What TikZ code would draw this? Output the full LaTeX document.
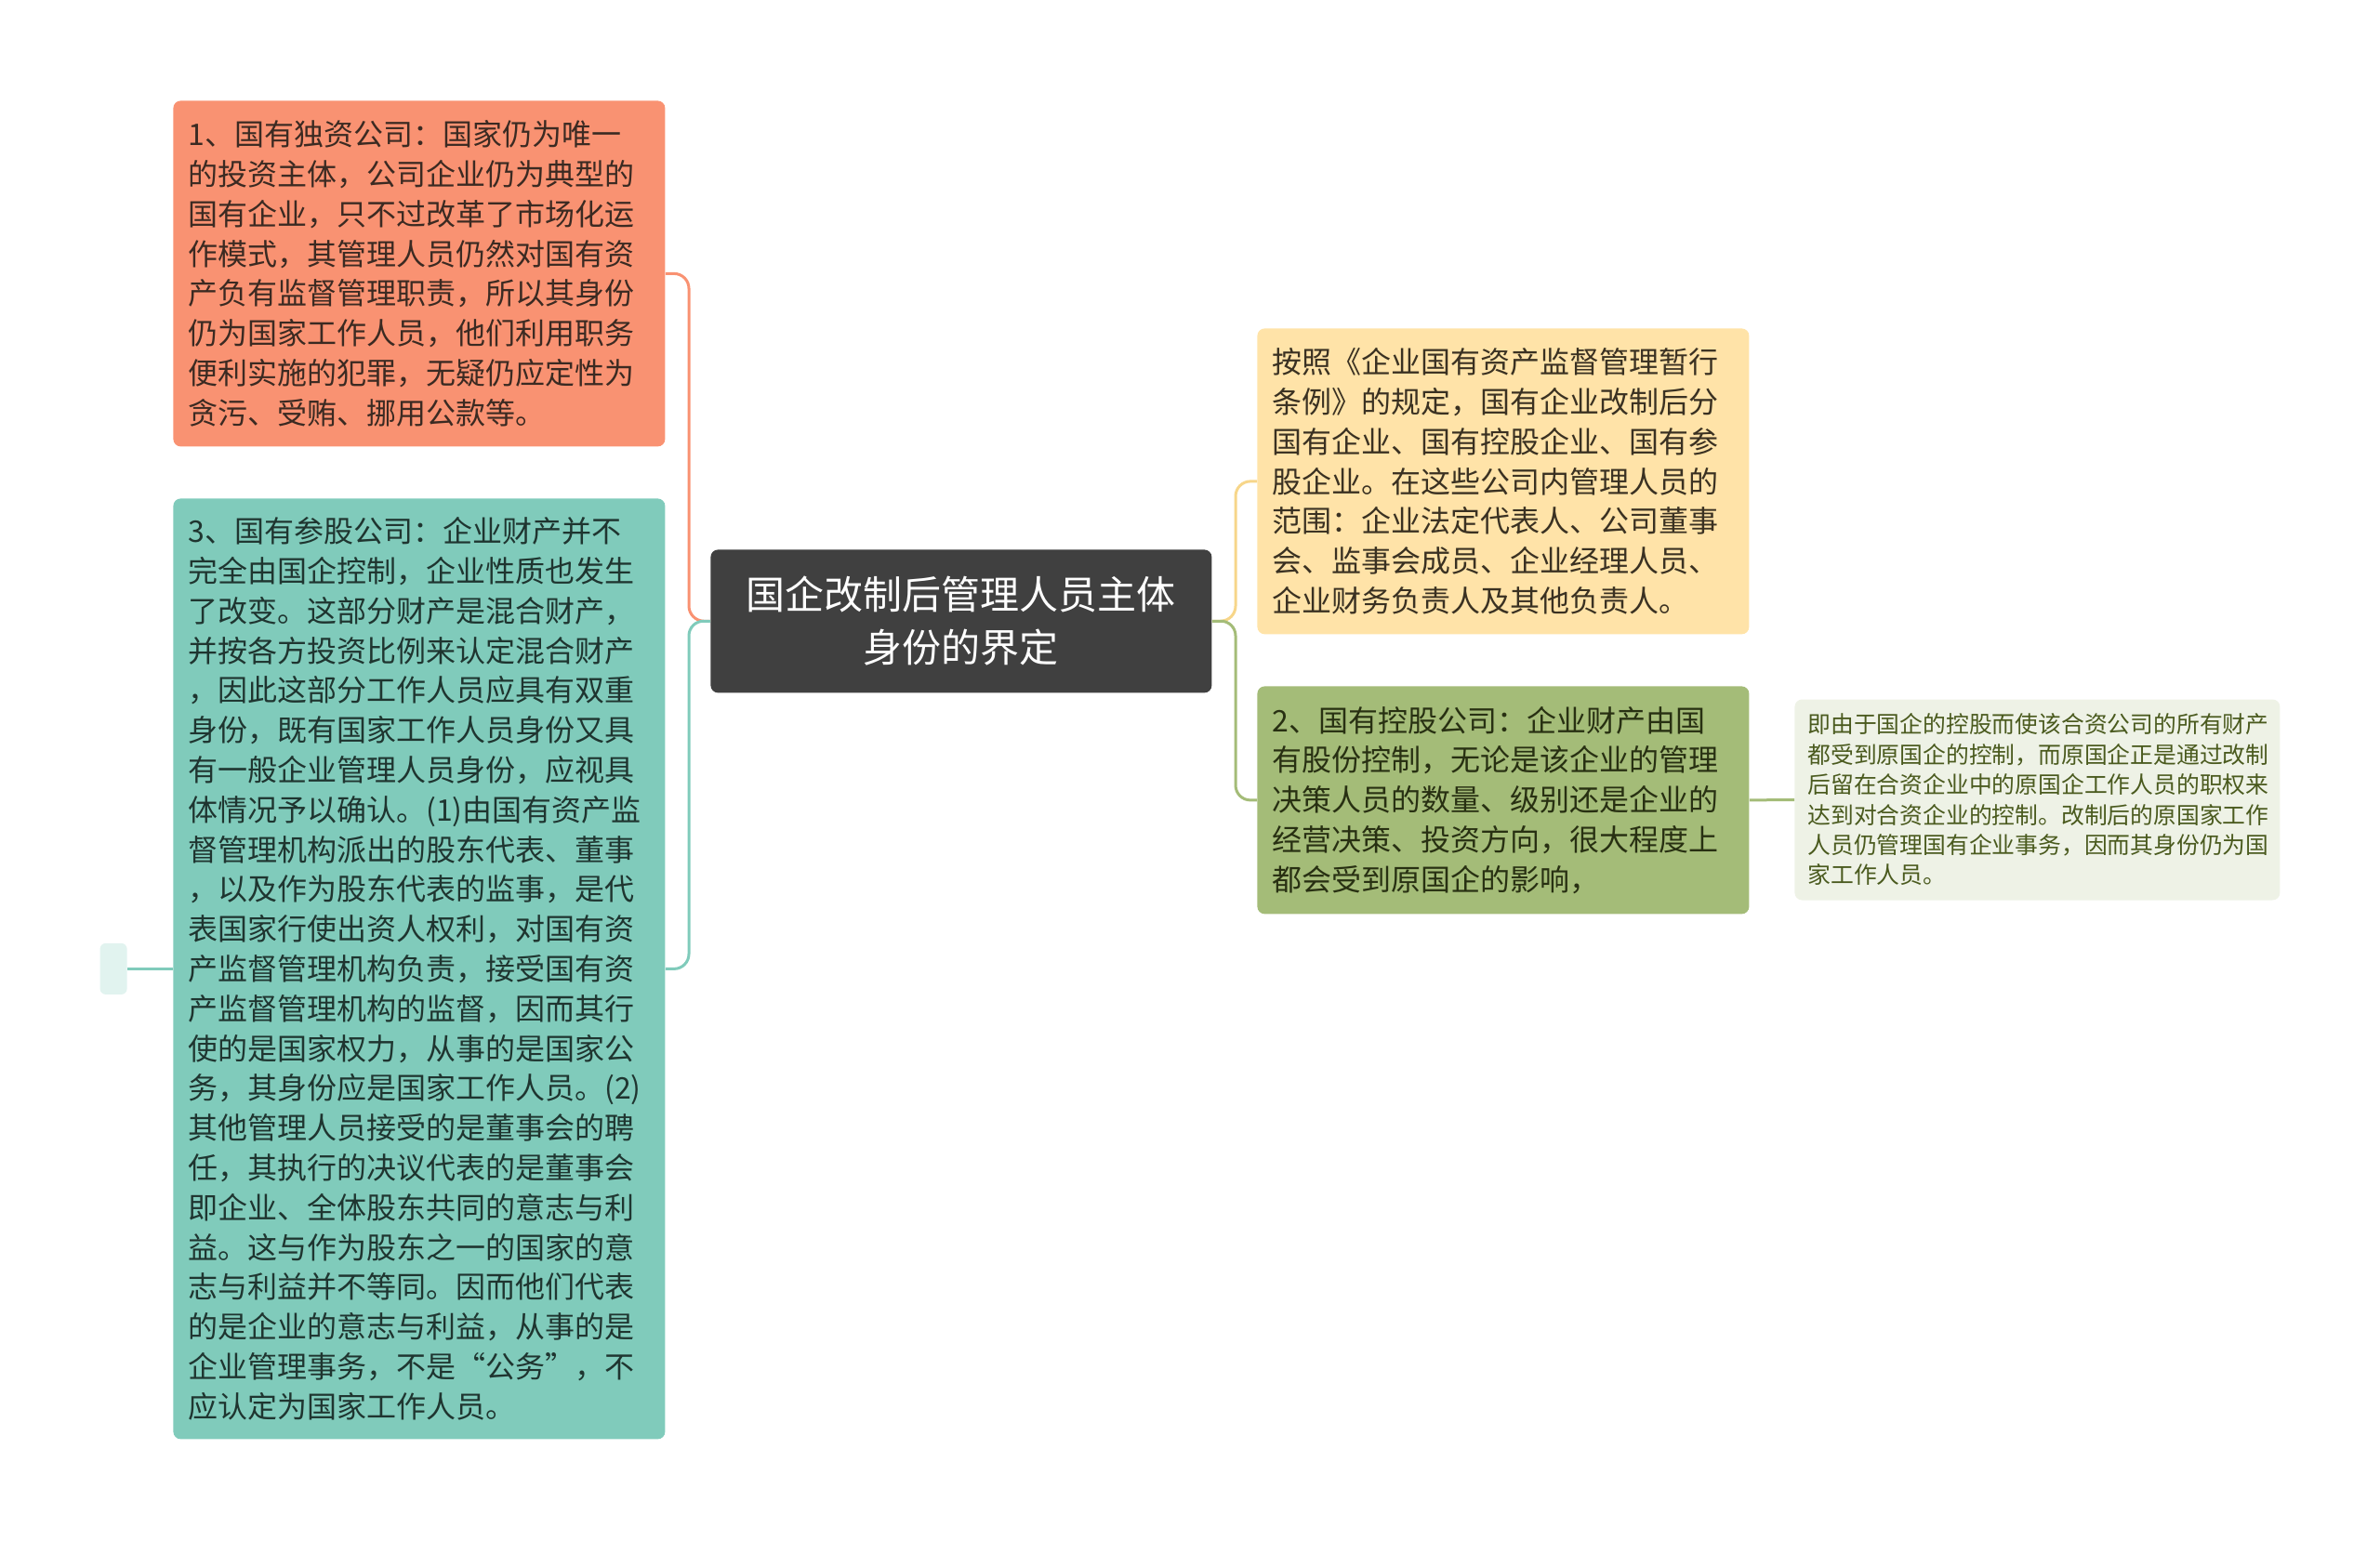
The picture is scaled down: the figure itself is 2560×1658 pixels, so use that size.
\documentclass[tikz,border=0pt]{standalone}
\usepackage{fontspec}
\usepackage{xcolor}
\setmainfont{Noto Sans CJK SC}
\usetikzlibrary{positioning}

\definecolor{coreFill}{HTML}{404040}
\definecolor{salmonFill}{HTML}{F99272}
\definecolor{salmonText}{HTML}{3B2A22}
\definecolor{tealFill}{HTML}{80CBBB}
\definecolor{tealText}{HTML}{1F3530}
\definecolor{tealStub}{HTML}{E1F3EF}
\definecolor{peachFill}{HTML}{FFE3A8}
\definecolor{peachLine}{HTML}{F7D68A}
\definecolor{peachText}{HTML}{3A3122}
\definecolor{oliveFill}{HTML}{A4BC78}
\definecolor{oliveText}{HTML}{283012}
\definecolor{paleFill}{HTML}{EEF2E6}
\definecolor{paleText}{HTML}{4A5A1E}

\begin{document}
\begin{tikzpicture}[x=0.5pt, y=-0.5pt,
    leafbox/.style={rounded corners=4pt, anchor=north west, align=left,
        text width=248.5pt, minimum width=264.5pt, inner xsep=8pt, inner ysep=0pt,
        font=\fontsize{16pt}{21.4pt}\selectfont},
    link/.style={line width=1.5pt, rounded corners=8pt}]
    \useasboundingbox (0,0) rectangle (2560,1658);

    % Nodes
    \node[rounded corners=4pt, fill=coreFill, text=white, anchor=north west, align=center,
          minimum width=269.5pt, minimum height=77pt, inner sep=0pt,
          font=\fontsize{21pt}{28.5pt}\selectfont] (core) at (764,591)
        {国企改制后管理人员主体\\身份的界定};   % Root

    \node[leafbox, fill=salmonFill, text=salmonText, minimum height=186pt] (sole) at (186,108)
        {1、国有独资公司：国家仍为唯一\\的投资主体，公司企业仍为典型的\\国有企业，只不过改革了市场化运\\作模式，其管理人员仍然对国有资\\产负有监督管理职责，所以其身份\\仍为国家工作人员，他们利用职务\\便利实施的犯罪，无疑仍应定性为\\贪污、受贿、挪用公款等。};
    \node[leafbox, fill=tealFill, text=tealText, minimum height=506pt] (mixed) at (186,536)
        {3、国有参股公司：企业财产并不\\完全由国企控制，企业性质也发生\\了改变。这部分财产是混合财产，\\并按各方投资比例来认定混合财产\\，因此这部分工作人员应具有双重\\身份，既有国家工作人员身份又具\\有一般企业管理人员身份，应视具\\体情况予以确认。(1)由国有资产监\\督管理机构派出的股东代表、董事\\，以及作为股东代表的监事，是代\\表国家行使出资人权利，对国有资\\产监督管理机构负责，接受国有资\\产监督管理机构的监督，因而其行\\使的是国家权力，从事的是国家公\\务，其身份应是国家工作人员。(2)\\其他管理人员接受的是董事会的聘\\任，其执行的决议代表的是董事会\\即企业、全体股东共同的意志与利\\益。这与作为股东之一的国家的意\\志与利益并不等同。因而他们代表\\的是企业的意志与利益，从事的是\\企业管理事务，不是“公务”，不\\应认定为国家工作人员。};
    \node[rounded corners=3pt, fill=tealStub, minimum width=14.5pt, minimum height=27.5pt,
          inner sep=0pt, left=24.5pt of mixed] (stub) {}; % empty child

    \node[leafbox, fill=peachFill, text=peachText, minimum height=164.5pt] (rules) at (1352,353)
        {按照《企业国有资产监督管理暂行\\条例》的规定，国有企业改制后分\\国有企业、国有控股企业、国有参\\股企业。在这些公司内管理人员的\\范围：企业法定代表人、公司董事\\会、监事会成员、企业经理人员、\\企业财务负责人及其他负责人。};
    \node[leafbox, fill=oliveFill, text=oliveText, minimum height=122.5pt] (holding) at (1352,738)
        {2、国有控股公司：企业财产由国\\有股份控制，无论是该企业的管理\\决策人员的数量、级别还是企业的\\经营决策、投资方向，很大程度上\\都会受到原国企的影响，};
    \node[leafbox, fill=paleFill, text=paleText, text width=247pt, minimum width=261pt,
          inner xsep=7pt, minimum height=108pt, font=\fontsize{12.4pt}{16.2pt}\selectfont,
          anchor=west] (detail) at (1930,860.5)
        {即由于国企的控股而使该合资公司的所有财产\\都受到原国企的控制，而原国企正是通过改制\\后留在合资企业中的原国企工作人员的职权来\\达到对合资企业的控制。改制后的原国家工作\\人员仍管理国有企业事务，因而其身份仍为国\\家工作人员。};

    \coordinate (lhub) at (741,668);
    \coordinate (rhub) at (1329,668);

    % Edges
    \draw[link, salmonFill] (sole.east) -| (lhub) -- (core.west);
    \draw[link, tealFill] (core.west) -- (lhub) |- (mixed.east);
    \draw[link, tealFill] (mixed.west) -- (stub.east);
    \draw[link, peachLine] (core.east) -- (rhub) |- (rules.west);
    \draw[link, oliveFill] (core.east) -- (rhub) |- (holding.west);
    \draw[link, oliveFill] (holding.east) -- (detail.west);
\end{tikzpicture}
\end{document}
